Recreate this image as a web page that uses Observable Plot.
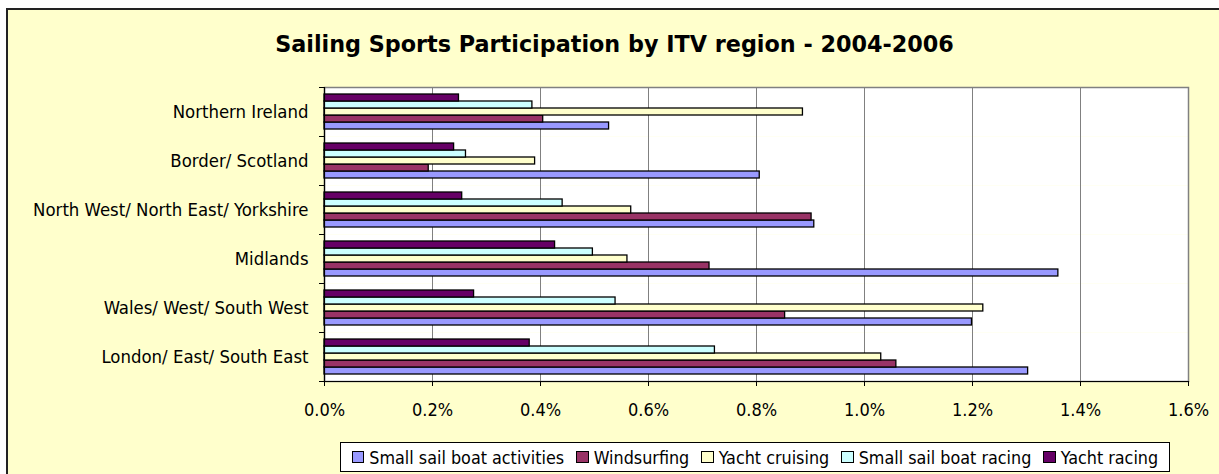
<!DOCTYPE html>
<html>
<head>
<meta charset="utf-8">
<script src="https://cdn.jsdelivr.net/npm/d3@7"></script>
<script src="https://cdn.jsdelivr.net/npm/@observablehq/plot@0.6"></script>
<style>
  html, body { margin: 0; padding: 0; background: #ffffff; overflow: hidden; }
  #wrap { position: relative; width: 1219px; height: 474px; overflow: hidden;
          font-family: "DejaVu Sans Condensed", "DejaVu Sans", sans-serif; font-stretch: condensed; }
  #box { position: absolute; left: 6px; top: 8px; width: 1400px; height: 600px;
         background: #FFFFCC; border-top: 2px solid #222; border-left: 2px solid #222; box-sizing: border-box; }
  #title { position: absolute; left: 0; width: 1229px; top: 33px; text-align: center;
           font-family: "DejaVu Sans", sans-serif; font-stretch: normal;
           font-weight: bold; font-size: 22.3px; color: #000; line-height: 1; }
  #chart { position: absolute; left: 0; top: 0; }
  #legend { position: absolute; left: 340px; top: 442px; width: 830px; height: 30px; box-sizing: border-box;
            border: 1px solid #000; background: #fff; display: flex; align-items: center; justify-content: center;
            font-size: 17.8px; color: #000; white-space: nowrap; }
  .item { display: flex; align-items: center; margin: 0 6px; }
  .sw { width: 10.5px; height: 10.5px; border: 1.5px solid #000; margin-right: 5px; }
</style>
</head>
<body>
<div id="wrap">
  <div id="box"></div>
  <div id="title"></div>
  <div id="chart"></div>
  <div id="legend"></div>
</div>
<script>
const chartTitle = "Sailing Sports Participation by ITV region - 2004-2006";
const regions = [
  "Northern Ireland",
  "Border/ Scotland",
  "North West/ North East/ Yorkshire",
  "Midlands",
  "Wales/ West/ South West",
  "London/ East/ South East"
];
const seriesNames = [
  "Small sail boat activities",
  "Windsurfing",
  "Yacht cruising",
  "Small sail boat racing",
  "Yacht racing"
];
const seriesColors = ["#9999FF", "#993366", "#FFFFCC", "#CCFFFF", "#660066"];
// values in percent, aligned with regions
const smallSailBoatActivities = [0.527, 0.806, 0.907, 1.359, 1.199, 1.303];
const windsurfing            = [0.405, 0.193, 0.902, 0.713, 0.853, 1.059];
const yachtCruising          = [0.886, 0.390, 0.568, 0.561, 1.220, 1.031];
const smallSailBoatRacing    = [0.385, 0.262, 0.441, 0.497, 0.539, 0.723];
const yachtRacing            = [0.249, 0.240, 0.255, 0.427, 0.277, 0.380];
const xTicks = [0, 0.2, 0.4, 0.6, 0.8, 1.0, 1.2, 1.4, 1.6];

const seriesValues = [smallSailBoatActivities, windsurfing, yachtCruising, smallSailBoatRacing, yachtRacing];
const data = [];
seriesNames.forEach((s, j) => regions.forEach((r, i) => data.push({region: r, series: s, value: seriesValues[j][i]})));

document.getElementById("title").textContent = chartTitle;

const font = `"DejaVu Sans Condensed", "DejaVu Sans", sans-serif`;
const plot = Plot.plot({
  width: 1219,
  height: 420,
  marginTop: 87,
  marginBottom: 39,
  marginLeft: 324,
  marginRight: 31,
  style: {background: "transparent", fontFamily: font, fontSize: "18px", color: "#000", overflow: "visible"},
  x: {domain: [0, 1.6], axis: null},
  y: {domain: seriesNames.slice().reverse(), paddingInner: 0, paddingOuter: 0.68, axis: null},
  fy: {domain: regions, padding: 0, axis: null},
  color: {domain: seriesNames, range: seriesColors},
  marks: [
    Plot.frame({fill: "white", stroke: null}),
    Plot.gridX(xTicks.filter(t => t > 0 && t < 1.6), {stroke: "#808080", strokeOpacity: 1, strokeWidth: 1}),
    Plot.frame({stroke: "#808080", strokeWidth: 1.5, facet: "super"}),
    Plot.barX(data, {x: "value", y: "series", fy: "region", fill: "series", stroke: "#000", strokeWidth: 1.3, inset: 0}),
    Plot.ruleX([0], {stroke: "#000", strokeWidth: 1.2}),
    Plot.frame({anchor: "bottom", stroke: "#000", strokeWidth: 1.2, facet: "super"}),
    Plot.axisX({ticks: xTicks, tickFormat: d => d.toFixed(1) + "%", tickSize: 5, tickPadding: 17, fontSize: 18, label: null}),
    Plot.axisFy({anchor: "left", tickSize: 0, tickPadding: 16, fontSize: 18.4, label: null}),
    Plot.axisFy({anchor: "left", tickSize: 5, text: null, dy: -24.5, label: null}),
    Plot.axisFy({anchor: "left", tickSize: 5, text: null, dy: 24.5, label: null})
  ]
});
document.getElementById("chart").appendChild(plot);

const legend = document.getElementById("legend");
seriesNames.forEach((s, j) => {
  const it = document.createElement("div");
  it.className = "item";
  const sw = document.createElement("div");
  sw.className = "sw";
  sw.style.background = seriesColors[j];
  const tx = document.createElement("span");
  tx.textContent = s;
  it.appendChild(sw); it.appendChild(tx);
  legend.appendChild(it);
});
</script>
</body>
</html>
